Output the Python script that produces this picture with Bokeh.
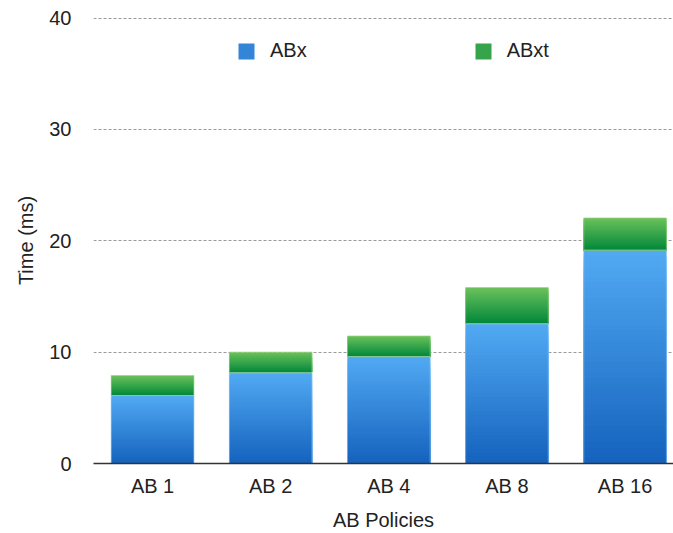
import numpy as np
from bokeh.plotting import figure
from bokeh.models import (ColumnDataSource, FixedTicker, Legend, LegendItem)
from bokeh.embed import file_html
from bokeh.resources import INLINE

# Stacked timing per AB policy (ms)
policies = ["AB 1", "AB 2", "AB 4", "AB 8", "AB 16"]
abx = [6.1, 8.15, 9.6, 12.55, 19.15]
abxt = [1.8, 1.85, 1.85, 3.25, 2.9]
y_ticks = [0, 10, 20, 30, 40]

FONT = "Liberation Sans"
BAR_W = 0.70
N_STEPS = 40


def hex_to_rgb(h):
    h = h.lstrip("#")
    return np.array([int(h[i:i + 2], 16) for i in (0, 2, 4)], dtype=float)


def rgb_to_hex(c):
    return "#%02x%02x%02x" % tuple(int(round(v)) for v in c)


def gradient_slices(xs, bottoms, tops, color_top, color_bottom, n=N_STEPS):
    """Shade each bar segment top-to-bottom with nested rectangles that all
    start at the segment base; the tallest (lightest) is drawn first and each
    shorter, darker one on top of it, so no internal seams appear."""
    ct, cb = hex_to_rgb(color_top), hex_to_rgb(color_bottom)
    rows = {"x": [], "bottom": [], "top": [], "color": []}
    for x, b, t in zip(xs, bottoms, tops):
        h = (t - b) / n
        for k in range(n - 1, -1, -1):
            f = (k + 0.5) / n  # 0 at bottom, 1 at top
            rows["x"].append(x)
            rows["bottom"].append(b)
            rows["top"].append(b + (k + 1) * h)
            rows["color"].append(rgb_to_hex(cb + (ct - cb) * f))
    return rows


xs = np.arange(len(policies))
abx_top = np.array(abx)
total = abx_top + np.array(abxt)

p = figure(width=673, height=533, x_range=(-0.5, 4.41), y_range=(0, 40.05),
           output_backend="svg", toolbar_location=None,
           min_border_left=93, min_border_right=0, min_border_top=17,
           min_border_bottom=70)
p.outline_line_color = None
p.background_fill_color = "white"
p.border_fill_color = "white"

blue_src = ColumnDataSource(gradient_slices(xs, np.zeros(len(xs)), abx_top,
                                            "#52aaf3", "#1462bd"))
green_src = ColumnDataSource(gradient_slices(xs, abx_top, total,
                                             "#6cc25b", "#00873a"))

r_blue = p.vbar(x="x", bottom="bottom", top="top", width=BAR_W,
                fill_color="color", line_color=None, source=blue_src)
r_green = p.vbar(x="x", bottom="bottom", top="top", width=BAR_W,
                 fill_color="color", line_color=None, source=green_src)

# thin light edge around each stacked bar
p.vbar(x=xs, bottom=0, top=abx_top, width=BAR_W, fill_color=None,
       line_color="#8cc6f5", line_width=1, line_alpha=0.7)
p.vbar(x=xs, bottom=abx_top, top=total, width=BAR_W, fill_color=None,
       line_color="#9bd58c", line_width=1, line_alpha=0.7)

# axes
p.xaxis.ticker = FixedTicker(ticks=list(xs))
p.xaxis.major_label_overrides = {int(i): s for i, s in zip(xs, policies)}
p.xaxis.axis_label = "AB Policies"
p.xaxis.axis_line_color = "#333333"
p.xaxis.axis_line_width = 1.6
p.xaxis.major_tick_line_color = None
p.xaxis.minor_tick_line_color = None
p.xaxis.major_label_text_font = FONT
p.xaxis.major_label_text_font_size = "20px"
p.xaxis.major_label_text_color = "#222222"
p.xaxis.major_label_standoff = 5
p.xaxis.axis_label_text_font = FONT
p.xaxis.axis_label_text_font_size = "20px"
p.xaxis.axis_label_text_font_style = "normal"
p.xaxis.axis_label_text_color = "#222222"
p.xaxis.axis_label_standoff = 9

p.yaxis.ticker = FixedTicker(ticks=y_ticks)
p.yaxis.axis_label = "Time (ms)"
p.yaxis.axis_line_color = None
p.yaxis.major_tick_line_color = None
p.yaxis.minor_tick_line_color = None
p.yaxis.major_label_text_font = FONT
p.yaxis.major_label_text_font_size = "20px"
p.yaxis.major_label_text_color = "#222222"
p.yaxis.major_label_standoff = 16
p.yaxis.axis_label_text_font = FONT
p.yaxis.axis_label_text_font_size = "20px"
p.yaxis.axis_label_text_font_style = "normal"
p.yaxis.axis_label_text_color = "#222222"
p.yaxis.axis_label_standoff = 9

p.xgrid.grid_line_color = None
p.ygrid.grid_line_color = "#9a9a9a"
p.ygrid.grid_line_dash = "3 2"
p.ygrid.grid_line_width = 1

legend = Legend(items=[
    LegendItem(label="ABx", renderers=[r_blue], index=N_STEPS // 2),
    LegendItem(label="ABxt", renderers=[r_green], index=N_STEPS // 2),
], orientation="horizontal", location=(143, 401))
legend.background_fill_alpha = 0
legend.border_line_color = None
legend.label_text_font = FONT
legend.label_text_font_size = "20px"
legend.label_text_color = "#222222"
legend.glyph_width = 20
legend.glyph_height = 20
legend.label_standoff = 14
legend.spacing = 166
legend.padding = 0
legend.margin = 0
p.add_layout(legend)

open("out.html", "w").write(file_html(p, INLINE))
